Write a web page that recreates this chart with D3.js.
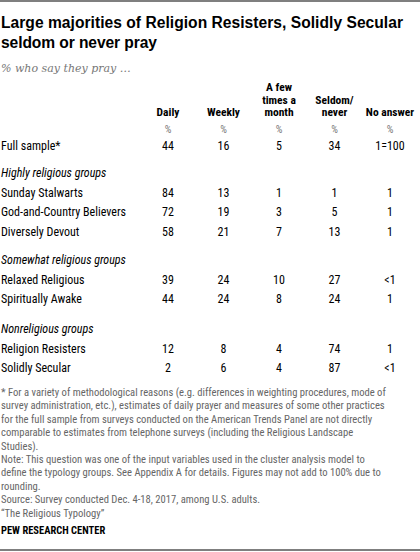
<!DOCTYPE html><html><head><meta charset="utf-8">
<script src="https://cdn.jsdelivr.net/npm/d3@7"></script>
<style>body{margin:0;background:#fff}svg{display:block}</style></head><body><svg width="420" height="552"></svg>
<script>
const columns=["Daily","Weekly","A few times a month","Seldom/ never","No answer"];
const headerLines=[["Daily"],["Weekly"],["A few","times a","month"],["Seldom/","never"],["No answer"]];
const groups=["","Highly religious groups","Somewhat religious groups","Nonreligious groups"];
const rowLabels=["Full sample*","Sunday Stalwarts","God-and-Country Believers","Diversely Devout","Relaxed Religious","Spiritually Awake","Religion Resisters","Solidly Secular"];
const rowGroup=[0,1,1,1,2,2,3,3];
const daily=["44","84","72","58","39","44","12","2"];
const weekly=["16","13","19","21","24","24","8","6"];
const fewMonth=["5","1","3","7","10","8","4","4"];
const seldom=["34","1","5","13","27","24","74","87"];
const noAnswer=["1=100","1","1","1","<1","1","1","<1"];
const footnotes=["* For a variety of methodological reasons (e.g. differences in weighting procedures, mode of","survey administration, etc.), estimates of daily prayer and measures of some other practices","for the full sample from surveys conducted on the American Trends Panel are not directly","comparable to estimates from telephone surveys (including the Religious Landscape","Studies).","Note: This question was one of the input variables used in the cluster analysis model to","define the typology groups. See Appendix A for details. Figures may not add to 100% due to","rounding.","Source: Survey conducted Dec. 4-18, 2017, among U.S. adults.","\u201cThe Religious Typology\u201d"];

const svg=d3.select("svg");
const F="'Liberation Sans Narrow','Roboto Condensed',Roboto,Arial,sans-serif";
svg.append("line").attr("x1",0).attr("x2",420).attr("y1",1).attr("y2",1).attr("stroke","#000").attr("stroke-width",1.2);
svg.append("line").attr("x1",0).attr("x2",420).attr("y1",550).attr("y2",550).attr("stroke","#000").attr("stroke-width",1.2);
const title=["Large majorities of Religion Resisters, Solidly Secular","seldom or never pray"];
svg.selectAll(".t").data(title).join("text").attr("x",1).attr("y",(d,i)=>28+i*20).text(d=>d)
 .attr("font-family","'Liberation Sans',Arial,sans-serif").attr("font-weight","bold").attr("font-size",15.6).attr("fill","#000").attr("textLength",(d,i)=>i?156:402);
svg.append("text").attr("x",1).attr("y",72).text("% who say they pray \u2026").attr("font-family","'DejaVu Serif',Georgia,serif").attr("font-style","italic").attr("font-size",11).attr("fill","#777");

const x=d3.scalePoint().domain(columns).range([168,390]);
const vals=[daily,weekly,fewMonth,seldom,noAnswer];
columns.forEach((c,ci)=>{
  const ls=headerLines[ci];
  ls.forEach((l,li)=>svg.append("text").attr("x",x(c)).attr("y",116-(ls.length-1-li)*12.5).attr("text-anchor","middle").text(l)
   .attr("font-family",F).attr("font-weight","bold").attr("font-size",11.5).attr("fill","#000"));
  svg.append("text").attr("x",x(c)).attr("y",133).attr("text-anchor","middle").text("%").attr("font-family",F).attr("font-size",10.5).attr("fill","#777");
});
const rowY=[150,197,216,236,284,303,353,372];
const groupY=[0,177,264,333];
groups.forEach((g,i)=>{ if(g) svg.append("text").attr("x",1).attr("y",groupY[i]).text(g).attr("font-family",F).attr("font-style","italic").attr("font-size",12).attr("fill","#000");});
rowLabels.forEach((r,ri)=>{
  svg.append("text").attr("x",1).attr("y",rowY[ri]).text(r).attr("font-family",F).attr("font-size",12).attr("fill","#000");
  columns.forEach((c,ci)=>svg.append("text").attr("x",x(c)).attr("y",rowY[ri]).attr("text-anchor","middle").text(vals[ci][ri]).attr("font-family",F).attr("font-size",12).attr("fill","#000"));
});
svg.selectAll(".f").data(footnotes).join("text").attr("x",1).attr("y",(d,i)=>396+i*13.4).text(d=>d)
 .attr("font-family",F).attr("font-size",10.6).attr("fill","#666");
svg.append("text").attr("x",1).attr("y",534).text("PEW RESEARCH CENTER").attr("font-family",F).attr("font-weight","bold").attr("font-size",10.5).attr("fill","#000");
</script></body></html>
